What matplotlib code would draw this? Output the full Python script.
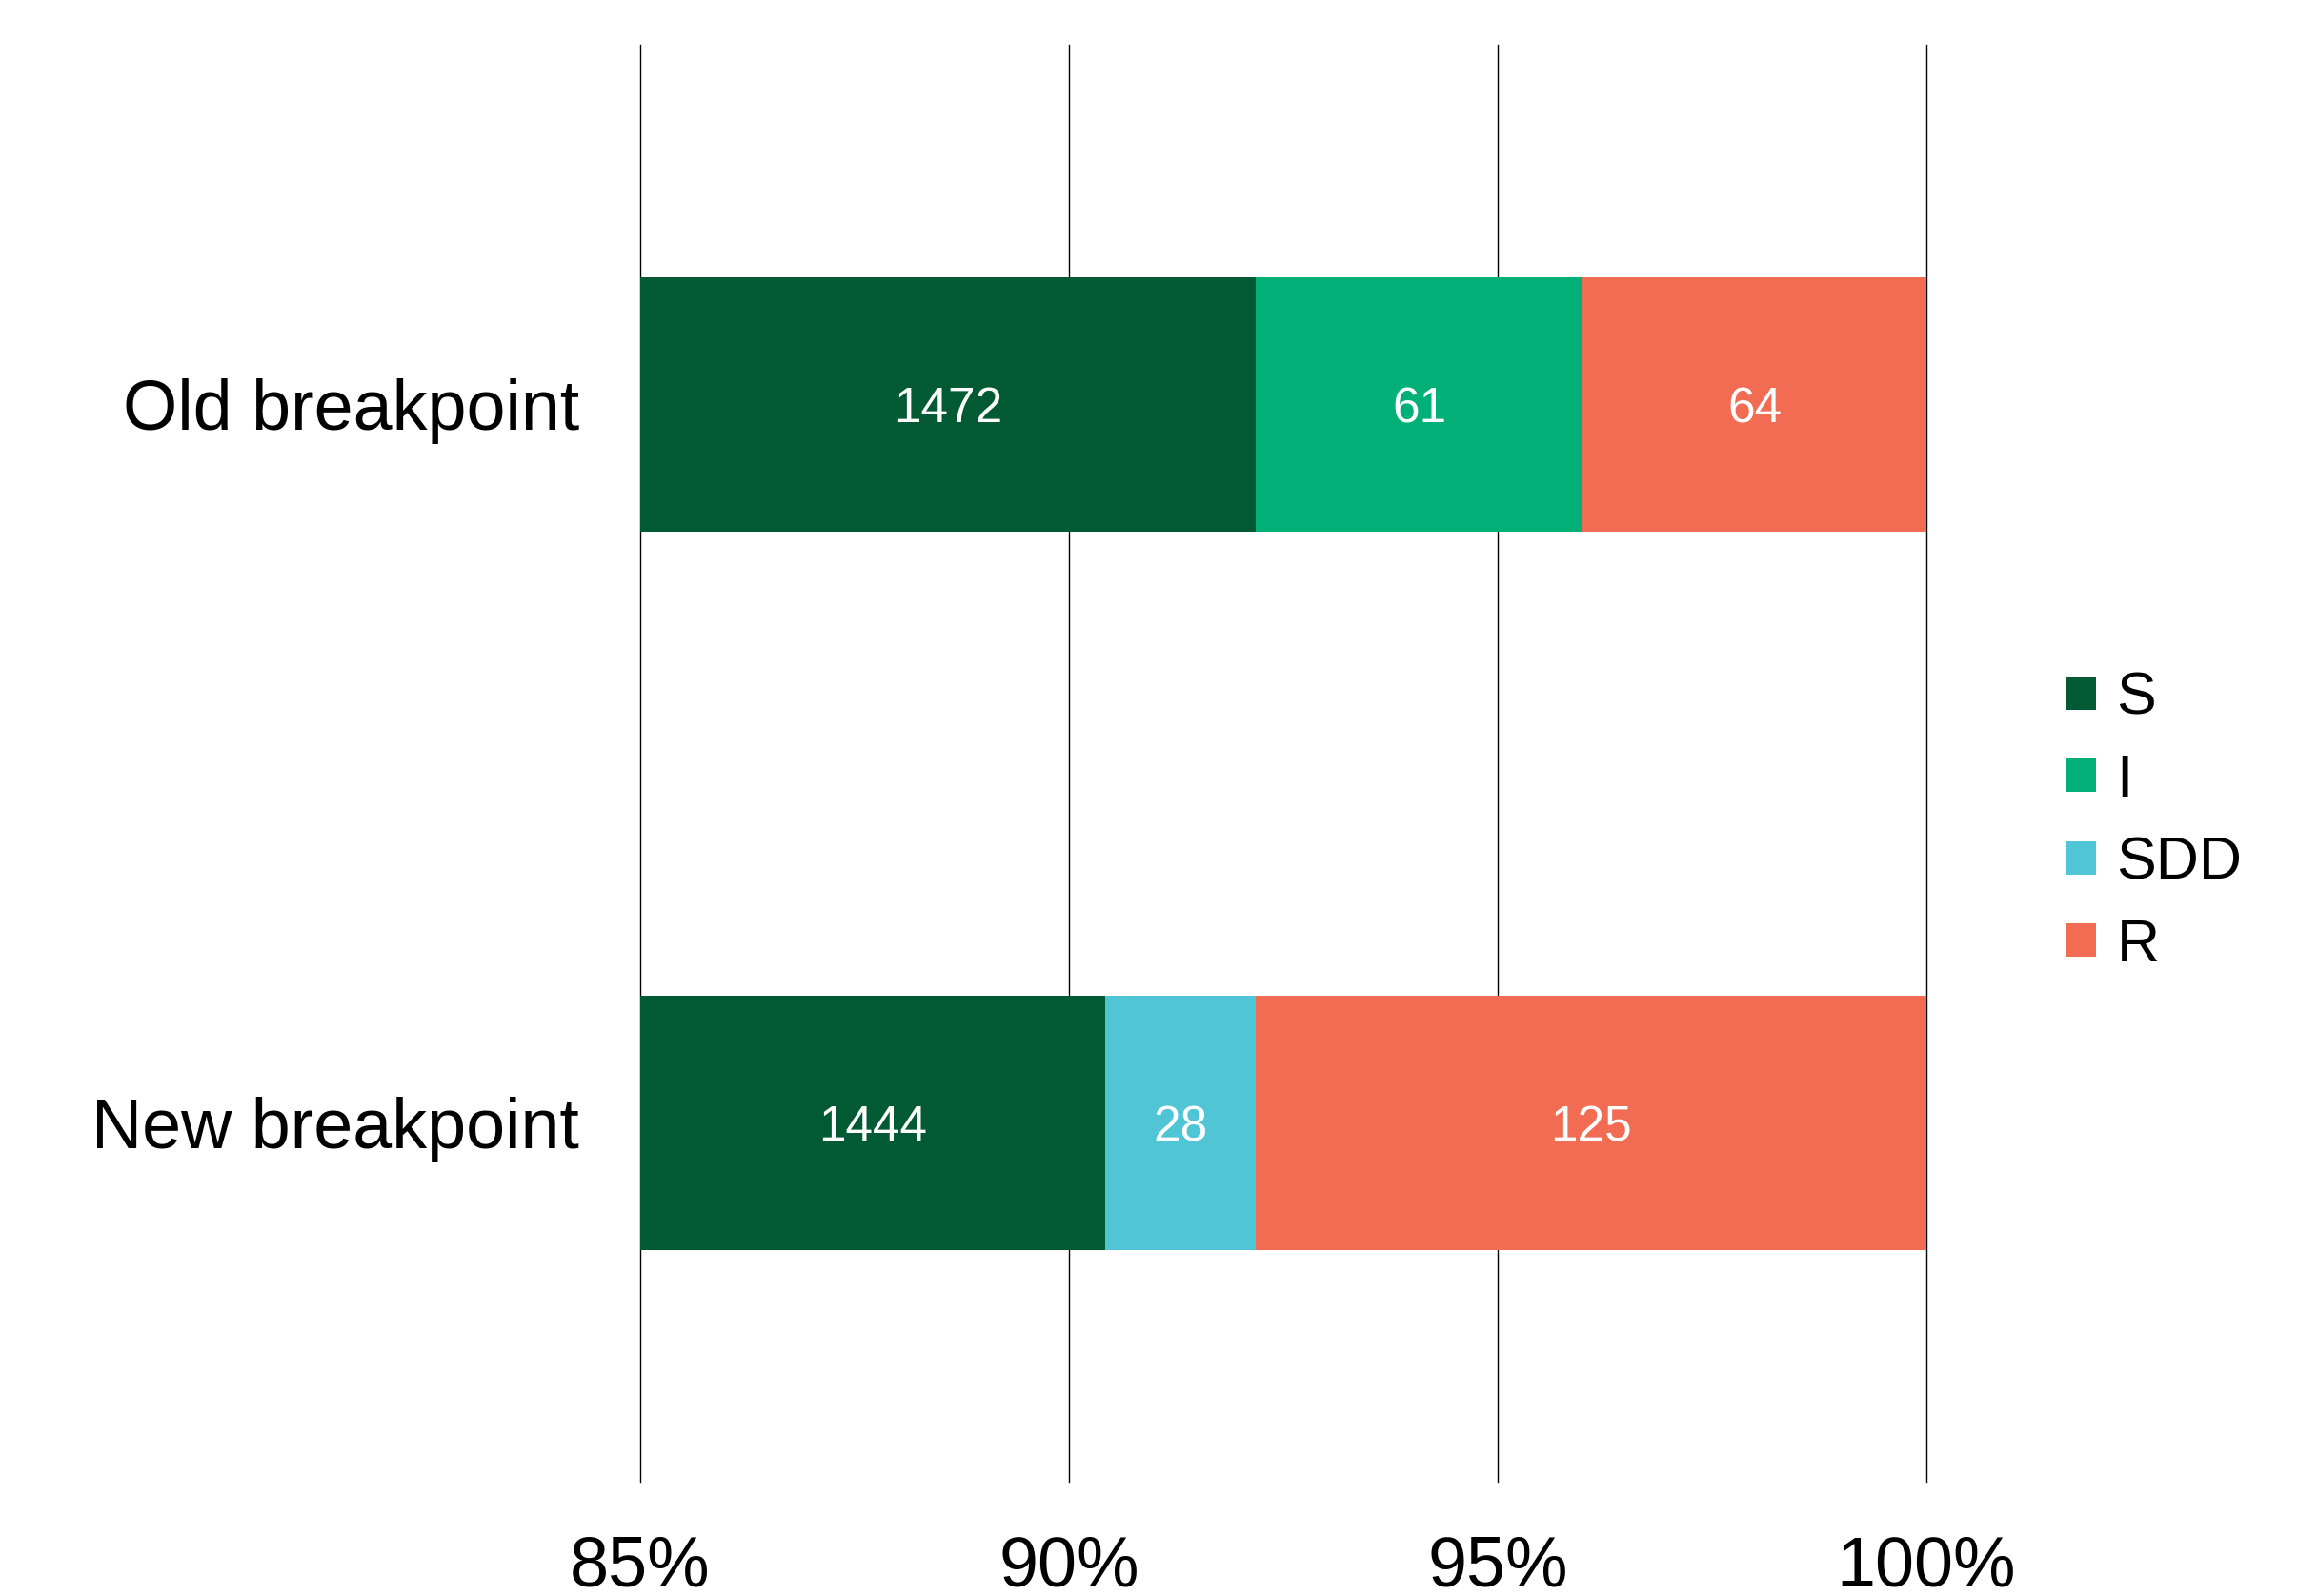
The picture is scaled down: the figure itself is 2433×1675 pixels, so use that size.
import matplotlib
matplotlib.use("Agg")
import matplotlib.pyplot as plt
import numpy as np

categories = ["Old breakpoint", "New breakpoint"]
series_names = ["S", "I", "SDD", "R"]
S_counts = [1472, 1444]
I_counts = [61, 0]
SDD_counts = [0, 28]
R_counts = [64, 125]
xticks = [85, 90, 95, 100]
xtick_labels = ["85%", "90%", "95%", "100%"]

colors = ["#025A34", "#00B077", "#4FC5D5", "#F16C52"]

plt.rcParams['font.family'] = ['Liberation Sans', 'DejaVu Sans']

counts = np.array([S_counts, I_counts, SDD_counts, R_counts], dtype=float)
totals = counts.sum(axis=0)
pct = counts / totals * 100

fig = plt.figure(figsize=(24.33, 16.75), dpi=100)
ax = fig.add_axes([0.2762, 0.0716, 0.8311 - 0.2762, 0.9719 - 0.0716])

xmin, xmax = 85, 100
y = np.arange(len(categories))
left = np.zeros(len(categories))
handles = []
for i, name in enumerate(series_names):
    h = ax.barh(y, pct[i], left=left, height=0.354, color=colors[i],
                label=name, zorder=3)
    handles.append(h)
    for j in range(len(categories)):
        if counts[i, j] > 0:
            lo = max(left[j], xmin)
            hi = min(left[j] + pct[i, j], xmax)
            ax.text((lo + hi) / 2, y[j], f"{int(counts[i, j])}",
                    ha="center", va="center_baseline", color="white",
                    fontsize=37, zorder=4)
    left = left + pct[i]

ax.set_xlim(xmin, xmax)
ax.set_ylim(1.5, -0.5)
ax.set_yticks(y)
ax.set_yticklabels(categories, fontsize=53)
ax.set_xticks(xticks)
ax.set_xticklabels(xtick_labels, fontsize=53)
ax.tick_params(axis="both", length=0)
ax.tick_params(axis="y", pad=46)
ax.tick_params(axis="x", pad=40)
for s in ax.spines.values():
    s.set_visible(False)
ax.grid(axis="x", color="black", linewidth=1.0, zorder=1)
for gl in ax.get_xgridlines():
    gl.set_clip_on(False)
ax.set_axisbelow(True)

fig.legend(handles=handles, labels=series_names, loc="center left",
           bbox_to_anchor=(0.8915, 0.485), frameon=False, fontsize=45,
           handlelength=0.49, handleheight=0.49, handletextpad=0.35,
           labelspacing=0.44, borderpad=0, borderaxespad=0)

fig.savefig("out.png", dpi=100, facecolor="white")
